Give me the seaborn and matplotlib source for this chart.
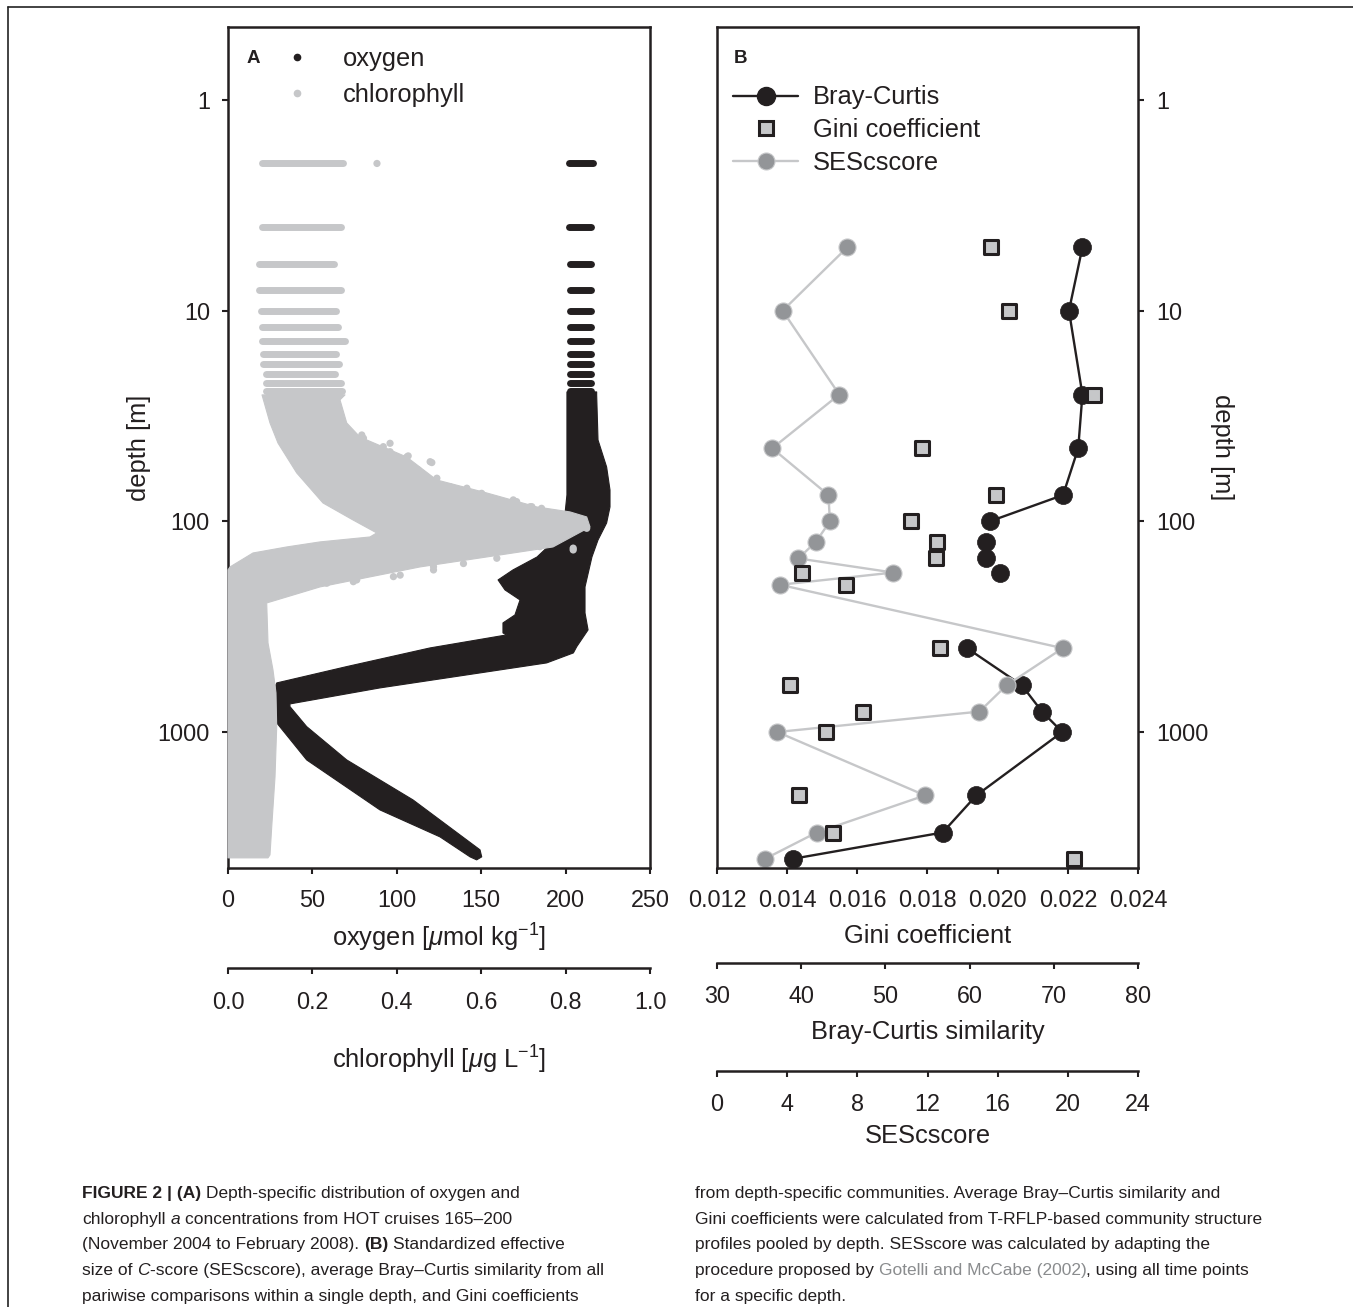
import numpy as np
import pandas as pd
import matplotlib
matplotlib.use("Agg")
import matplotlib.pyplot as plt
import seaborn as sns
from matplotlib.lines import Line2D
from matplotlib.ticker import NullLocator
from matplotlib import font_manager as fm

# ------------------------------------------------------------------
# Panel A data
# near-surface sampling rows: depth [m], oxygen and chlorophyll ranges
row_depth = [2, 4, 6, 8, 10, 12, 14, 16, 18, 20, 22, 24]
o2_row_min = [202.3, 202.3, 202.8, 202.8, 202.8, 202.8, 202.8, 202.8, 202.8, 202.8, 202.8, 202.8]
o2_row_max = [216.5, 215.3, 215.3, 215.3, 215.3, 215.3, 215.3, 215.3, 215.3, 215.3, 215.3, 215.3]
chl_row_min = [0.081, 0.081, 0.074, 0.074, 0.079, 0.081, 0.081, 0.084, 0.084, 0.089, 0.089, 0.090]
chl_row_max = [0.273, 0.267, 0.250, 0.267, 0.255, 0.261, 0.277, 0.255, 0.262, 0.253, 0.267, 0.269]

# outline of the dense oxygen cloud (depth [m], oxygen [umol/kg])
o2_env_depth = [24.3, 74.9, 91.2, 122.6, 147.6, 170.1, 189.7, 211.6, 236.1, 278.1, 303.5, 338.6,
                346, 398.9, 489.3, 584.8, 597.7, 895.5, 1356.5, 2343, 3147, 3915, 4046, 3915,
                3627, 2101, 1356.5, 942.7, 757.7, 735.7, 617.6, 524.2, 469.9, 421.3,
                393.3, 327.6, 272.1, 204.8, 147.6, 122.6, 101.8, 85.4, 71.0, 55.2, 41.1, 25.1, 24.3]
o2_env_value = [200.8, 200.8, 199.7, 193.7, 183.1, 168.8, 160.0, 164.1, 173.0, 170.0, 162.9, 162.9,
                165.1, 119.7, 70.3, 28.9, 28.4, 28.4, 46.6, 90.0, 125.6, 143.4, 147.3, 150.3,
                149.3, 109.6, 70.3, 46.6, 36.7, 36.7, 90.0, 149.3, 188.8, 204.6,
                206.6, 213.3, 211.5, 211.5, 215.6, 219.2, 224.3, 226.3, 226.3, 224.3, 219.2, 218.4, 218.4]

# outline of the dense chlorophyll cloud (depth [m], chlorophyll [ug/L])
chl_env_depth = [25.1, 34.1, 42.5, 58.9, 81.8, 98.5, 113.5,
                 118.6, 125.2, 132.3, 141.3, 164.6, 170.1,
                 3959, 3959, 3831, 2821, 1633, 945.9, 652.3, 507.5, 377.6, 244.0,
                 228.5, 204.8, 183.5, 164.6, 147.6, 132.3, 106.3,
                 95.3, 90.2, 85.4, 73.3, 63.6, 49.5, 39.8, 34.1, 26.5, 25.1]
chl_env_value = [0.0806, 0.0995, 0.1185, 0.1628, 0.2251, 0.2962, 0.3524,
                 0.3365, 0.2180, 0.1391, 0.0592, 0.0047, 0.0,
                 0.0, 0.0948, 0.0995, 0.1036, 0.1114, 0.1154, 0.1137, 0.1066, 0.0948, 0.0917,
                 0.1391, 0.2180, 0.3365, 0.4550, 0.6130, 0.7701, 0.8578,
                 0.8500, 0.8104, 0.7315, 0.6130, 0.4945, 0.4235, 0.3128, 0.2813, 0.2654, 0.2773]

# scattered chlorophyll points outside the dense cloud
chl_out_depth = [2.0, 40.3, 44.2, 46.7, 49.4, 52.1, 69.6, 79.1, 85.2, 86.7, 136.7, 105.9,
                 200.4, 196.7, 189.7, 183.0, 170.1, 149.7, 131.9, 38.9, 42.6, 48.9, 52.6,
                 80.6, 107.9, 134.0,
                 57.0, 62.4, 68.4, 73.6, 85.2, 193.4, 180.0, 164.0, 158.6]
chl_out_value = [0.353, 0.321, 0.368, 0.384, 0.424, 0.479, 0.566, 0.676, 0.720, 0.743, 0.818, 0.846,
                 0.178, 0.234, 0.305, 0.392, 0.487, 0.637, 0.739, 0.317, 0.384, 0.427, 0.483,
                 0.684, 0.850, 0.818,
                 0.451, 0.495, 0.526, 0.601, 0.716, 0.297, 0.408, 0.487, 0.558]

# ------------------------------------------------------------------
# Panel B data
depth_b = [5, 10, 25, 45, 75, 100, 125, 150, 175, 200, 400, 600, 800, 1000, 2000, 3000, 4000]
bray_curtis = [73.4, 71.8, 73.4, 72.9, 71.1, 62.4, 61.9, 61.9, 63.6, np.nan,
               59.7, 66.2, 68.6, 71.0, 60.8, 56.8, 39.0]
bc_group = [1, 1, 1, 1, 1, 1, 2, 3, 4, 0, 5, 5, 5, 5, 5, 5, 5]
gini = [0.01981, 0.02032, 0.02274, 0.01785, 0.01994, 0.01752, 0.01826, 0.01823, 0.01441, 0.01567,
        0.01835, 0.01408, 0.01617, 0.01511, 0.01435, 0.01531, 0.02218]
ses = [7.43, 3.74, 6.97, 3.15, 6.35, 6.44, 5.64, 4.64, 10.05, 3.59,
       19.71, 16.51, 14.96, 3.44, 11.86, 5.68, 2.74]

o2_ticks = [0, 50, 100, 150, 200, 250]
chl_ticks = [0.0, 0.2, 0.4, 0.6, 0.8, 1.0]
gini_ticks = [0.012, 0.014, 0.016, 0.018, 0.020, 0.022, 0.024]
bc_ticks = [30, 40, 50, 60, 70, 80]
ses_ticks = [0, 4, 8, 12, 16, 20, 24]
depth_ticks = [1, 10, 100, 1000]

# ------------------------------------------------------------------
sns.set_theme(style="ticks")
plt.rcParams["font.family"] = ["Liberation Sans", "DejaVu Sans"]
plt.rcParams["mathtext.fontset"] = "custom"
plt.rcParams["mathtext.rm"] = "Liberation Sans"
plt.rcParams["mathtext.it"] = "Liberation Sans:italic"
plt.rcParams["mathtext.bf"] = "Liberation Sans:bold"
plt.rcParams["text.color"] = "#231f20"
plt.rcParams["axes.labelcolor"] = "#231f20"
plt.rcParams["xtick.color"] = "#231f20"
plt.rcParams["ytick.color"] = "#231f20"

BLACK = "#231f20"
LGRAY = "#c6c7c9"
MGRAY = "#939598"
TICK_FS = 16.8
LAB_FS = 18.4
SPINE_LW = 1.8

W, H = 1353, 1307
fig = plt.figure(figsize=(W / 100, H / 100), dpi=100)
fig.patch.set_facecolor("white")


def fy(py):
    return 1 - py / H


TOP, BOT = 27, 868
YLIM = (4422, 0.45)
axA = fig.add_axes([228 / W, fy(BOT), (650 - 228) / W, (BOT - TOP) / H])
axB = fig.add_axes([717 / W, fy(BOT), (1138 - 717) / W, (BOT - TOP) / H])


def style_box(ax):
    for s in ax.spines.values():
        s.set_visible(True)
        s.set_linewidth(SPINE_LW)
        s.set_color(BLACK)


def style_outer(ax, outward_pt):
    for k in ["top", "left", "right"]:
        ax.spines[k].set_visible(False)
    ax.spines["bottom"].set_visible(True)
    ax.spines["bottom"].set_linewidth(SPINE_LW)
    ax.spines["bottom"].set_color(BLACK)
    ax.spines["bottom"].set_position(("outward", outward_pt))
    ax.xaxis.set_ticks_position("bottom")
    ax.xaxis.set_label_position("bottom")


# ---------------- Panel A ----------------
axA.set_yscale("log")
axA.set_ylim(*YLIM)
axA.set_xlim(0, 250)
axA.fill(o2_env_value, o2_env_depth, color=BLACK, lw=0.8, joinstyle="round", zorder=2)
axA.hlines(row_depth, o2_row_min, o2_row_max, colors=BLACK, lw=5, capstyle="round", zorder=2)
style_box(axA)
axA.yaxis.set_minor_locator(NullLocator())
axA.set_yticks(depth_ticks)
axA.set_yticklabels([str(d) for d in depth_ticks])
axA.set_xticks(o2_ticks)
axA.set_xticklabels([str(v) for v in o2_ticks])
axA.tick_params(axis="both", direction="out", length=4, width=1.5, labelsize=TICK_FS)
axA.tick_params(axis="x", pad=11)
axA.tick_params(axis="y", pad=9)
axA.set_xlabel("oxygen [$\\mu$mol kg$^{-1}$]", fontsize=LAB_FS, labelpad=7.5)
axA.set_ylabel("depth [m]", fontsize=LAB_FS, labelpad=4.8)

axC = axA.twiny()
axC.set_xlim(0, 1)
axC.fill(chl_env_value, chl_env_depth, color=LGRAY, lw=0.8, joinstyle="round", zorder=2, clip_on=False)
axC.hlines(row_depth, chl_row_min, chl_row_max, colors=LGRAY, lw=5, capstyle="round", zorder=2)
df_out = pd.DataFrame({"chl": chl_out_value, "depth": chl_out_depth})
sns.scatterplot(data=df_out, x="chl", y="depth", ax=axC, s=27, color=LGRAY, edgecolor="none",
                legend=False, zorder=3)
style_outer(axC, 72)
axC.set_xticks(chl_ticks)
axC.set_xticklabels([f"{v:.1f}" for v in chl_ticks])
axC.tick_params(axis="x", direction="out", length=4, width=1.5, labelsize=TICK_FS, pad=12.5)
axC.set_ylabel("")
axC.set_xlabel("chlorophyll [$\\mu$g L$^{-1}$]", fontsize=LAB_FS, labelpad=21.5)

hA = [Line2D([], [], ls="none", marker="o", ms=4.5, color=BLACK, label="oxygen"),
      Line2D([], [], ls="none", marker="o", ms=4.5, color=LGRAY, label="chlorophyll")]
axC.legend(handles=hA, loc="upper left", bbox_to_anchor=(0.0995, 0.9765), frameon=False,
           fontsize=LAB_FS, handlelength=2.12, handletextpad=0.745, labelspacing=0.49,
           borderpad=0, borderaxespad=0)
axC.text(0.045, 0.963, "A", transform=axC.transAxes, fontsize=13.5, fontweight="bold",
         va="center", ha="left")

# ---------------- Panel B ----------------
axB.set_yscale("log")
axB.set_ylim(*YLIM)
axB.set_xlim(0.012, 0.024)
axBC = axB.twiny()
axBC.set_xlim(30, 80)
axS = axB.twiny()
axS.set_xlim(0, 24)
axB.set_zorder(3)
axB.patch.set_visible(False)
axBC.set_zorder(1)
axS.set_zorder(2)

df_b = pd.DataFrame({"depth": depth_b, "bc": bray_curtis, "grp": bc_group, "gini": gini, "ses": ses})
for g, sub in df_b.dropna().groupby("grp"):
    if len(sub) > 1:
        axBC.plot(sub["bc"], sub["depth"], color=BLACK, lw=1.7, zorder=2)
sns.scatterplot(data=df_b, x="bc", y="depth", ax=axBC, s=169, color=BLACK, edgecolor=BLACK,
                linewidth=0.5, legend=False, zorder=3)
axS.plot(df_b["ses"], df_b["depth"], color=LGRAY, lw=1.7, zorder=2)
sns.scatterplot(data=df_b, x="ses", y="depth", ax=axS, s=150, color=MGRAY, edgecolor=LGRAY,
                linewidth=0.8, legend=False, zorder=3)
sns.scatterplot(data=df_b, x="gini", y="depth", ax=axB, marker="s", s=100, color=LGRAY,
                edgecolor=BLACK, linewidth=2.2, legend=False, zorder=3)

style_box(axB)
axB.yaxis.set_minor_locator(NullLocator())
axB.set_yticks(depth_ticks)
axB.set_yticklabels([str(d) for d in depth_ticks])
axB.yaxis.set_ticks_position("right")
axB.yaxis.set_label_position("right")
axB.set_xticks(gini_ticks)
axB.set_xticklabels([f"{v:.3f}" for v in gini_ticks])
axB.tick_params(axis="both", direction="out", length=4, width=1.5, labelsize=TICK_FS)
axB.tick_params(axis="x", pad=11)
axB.tick_params(axis="y", left=False, labelleft=False, right=True, labelright=True, pad=9)
axB.set_xlabel("Gini coefficient", fontsize=LAB_FS, labelpad=9)
axB.set_ylabel("depth [m]", fontsize=LAB_FS, rotation=270, va="bottom", labelpad=1)

for ax_, ticks, fmt, out_pt, lab, lpad in [(axBC, bc_ticks, "{:d}", 68.4, "Bray-Curtis similarity", 8.5),
                                           (axS, ses_ticks, "{:d}", 146, "SEScscore", 6)]:
    style_outer(ax_, out_pt)
    ax_.set_xticks(ticks)
    ax_.set_xticklabels([fmt.format(t) for t in ticks])
    ax_.tick_params(axis="x", direction="out", length=4, width=1.5, labelsize=TICK_FS, pad=12)
    ax_.set_ylabel("")
    ax_.set_xlabel(lab, fontsize=LAB_FS, labelpad=lpad)

hB = [Line2D([], [], color=BLACK, lw=1.7, marker="o", ms=13, mfc=BLACK, mec=BLACK, label="Bray-Curtis"),
      Line2D([], [], ls="none", marker="s", ms=10, mfc=LGRAY, mec=BLACK, mew=2.2, label="Gini coefficient"),
      Line2D([], [], color=LGRAY, lw=1.7, marker="o", ms=12.2, mfc=MGRAY, mec=LGRAY, mew=0.8,
             label="SEScscore")]
axB.legend(handles=hB, loc="upper left", bbox_to_anchor=(0.038, 0.9305), frameon=False,
           fontsize=LAB_FS, handlelength=2.55, handletextpad=0.59, labelspacing=0.34,
           borderpad=0, borderaxespad=0)
axB.text(0.040, 0.963, "B", transform=axB.transAxes, fontsize=13.5, fontweight="bold",
         va="center", ha="left")

# ---------------- frame ----------------
fig.add_artist(Line2D([8 / W, 1], [fy(7), fy(7)], transform=fig.transFigure, color="#222222", lw=1.2))
fig.add_artist(Line2D([8 / W, 8 / W], [fy(7), 0], transform=fig.transFigure, color="#222222", lw=1.2))

# ---------------- caption ----------------
names = {f.name for f in fm.fontManager.ttflist}
CAP_FAMILY = "Liberation Sans Narrow" if "Liberation Sans Narrow" in names else "Liberation Sans"
renderer = fig.canvas.get_renderer()


def text_width(s, size, **kw):
    t = fig.text(0, 0, s, fontsize=size, family=CAP_FAMILY, **kw)
    w = t.get_window_extent(renderer).width
    t.remove()
    return w


ref_line = "Gini coefficients were calculated from T-RFLP-based community structure"
CAP_FS = 10 * 568 / text_width(ref_line, 10)
SPACE = text_width("a a", CAP_FS) - text_width("aa", CAP_FS)
CAP_COLOR = "#231f20"
LINK_COLOR = "#8a8c8e"
N = {}
BF = {"fontweight": "bold"}
IT = {"fontstyle": "italic"}
LK = {"color": LINK_COLOR}


def caption_line(x_px, base_px, parts):
    x = x_px
    for txt, style in parts:
        n_lead = len(txt) - len(txt.lstrip(" "))
        x += n_lead * SPACE
        kw = {"color": CAP_COLOR}
        kw.update(style)
        t = fig.text(x / W, fy(base_px), txt.lstrip(" "), fontsize=CAP_FS, family=CAP_FAMILY,
                     va="baseline", ha="left", **kw)
        x = t.get_window_extent(renderer).x1


left_lines = [
    [("FIGURE 2 | (A)", BF), (" Depth-specific distribution of oxygen and", N)],
    [("chlorophyll", N), (" a", IT), (" concentrations from HOT cruises 165\u2013200", N)],
    [("(November 2004 to February 2008).", N), (" (B)", BF), (" Standardized effective", N)],
    [("size of", N), (" C", IT), ("-score (SEScscore), average Bray\u2013Curtis similarity from all", N)],
    [("pariwise comparisons within a single depth, and Gini coefficients", N)],
]
right_lines = [
    [("from depth-specific communities. Average Bray\u2013Curtis similarity and", N)],
    [("Gini coefficients were calculated from T-RFLP-based community structure", N)],
    [("profiles pooled by depth. SESscore was calculated by adapting the", N)],
    [("procedure proposed by", N), (" Gotelli and McCabe (2002)", LK), (", using all time points", N)],
    [("for a specific depth.", N)],
]
baselines = [1198, 1224, 1249, 1275, 1301]
for b, parts in zip(baselines, left_lines):
    caption_line(82, b, parts)
for b, parts in zip(baselines, right_lines):
    caption_line(695, b, parts)

fig.savefig("out.png", dpi=100, facecolor="white")
